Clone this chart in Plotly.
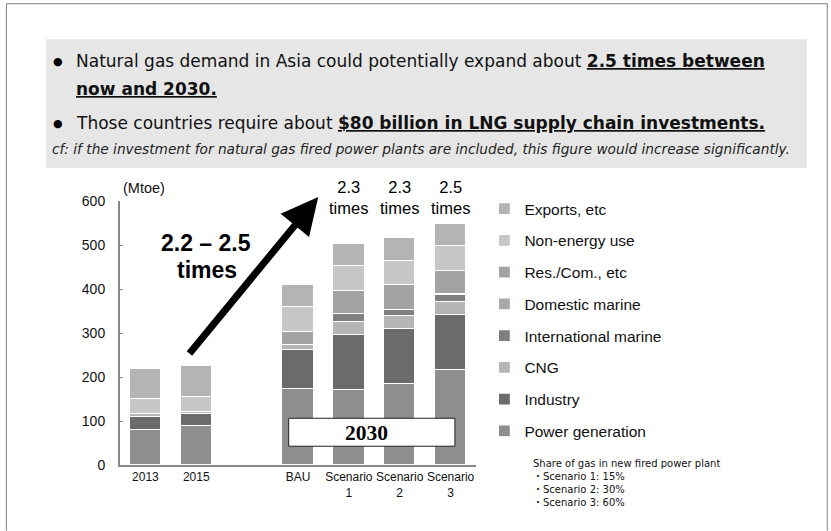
import plotly.graph_objects as go

# ---------------- data ----------------
x_labels = ["2013", "2015", "BAU", "Scenario<br>1", "Scenario<br>2", "Scenario<br>3"]
x_pos = [0, 1, 3, 4, 5, 6]
power_generation = [80, 88, 172, 171, 184, 215]
industry = [29, 28, 90, 125, 125, 125]
cng = [6, 4, 11, 29, 30, 30]
international_marine = [0, 0, 0, 18, 13, 16]
domestic_marine = [0, 0, 0, 0, 0, 2]
res_com = [0, 0, 29, 53, 57, 53]
non_energy_use = [35, 34, 56, 56, 55, 56]
exports = [68, 70, 51, 51, 51, 50]

series_names = ["Power generation", "Industry", "CNG", "International marine",
                "Domestic marine", "Res./Com., etc", "Non-energy use", "Exports, etc"]
series_values = [power_generation, industry, cng, international_marine,
                 domestic_marine, res_com, non_energy_use, exports]
series_colors = ["#8e8e8e", "#6b6b6b", "#b5b5b7", "#7f7f7f",
                 "#a9a9a9", "#a3a3a3", "#c6c7c6", "#b4b4b4"]

growth_x = [4, 5, 6]
growth_labels = ["2.3", "2.3", "2.5"]

y_ticks = [0, 100, 200, 300, 400, 500, 600]

# ---------------- layout helpers ----------------
W, H = 831, 531
L, R, T, B = 120, 475.6, 201, 465.3


def px(x):
    return (x - L) / (R - L)


def py(y):
    return (B - y) / (B - T)


fig = go.Figure()
n = len(series_names)
for i, (name, vals, col) in enumerate(zip(series_names, series_values, series_colors)):
    fig.add_trace(go.Bar(
        x=x_pos, y=vals, name=name, width=0.62, legendgroup=name, legendrank=n - i,
        marker=dict(color=col, line=dict(color="white", width=1.2)),
    ))

fig.update_layout(
    width=W, height=H,
    margin=dict(l=L, r=W - R, t=T, b=H - B, pad=0),
    barmode="stack",
    plot_bgcolor="white", paper_bgcolor="white",
    font=dict(family="Arial, Liberation Sans, sans-serif", color="#000"),
    showlegend=True,
    legend=dict(
        x=px(484), y=py(192), xanchor="left", yanchor="top",
        traceorder="grouped", tracegroupgap=8.6, maxheight=400,
        font=dict(size=15.5, family="Arial, Liberation Sans, sans-serif", color="#111"),
        bgcolor="rgba(0,0,0,0)",
    ),
    bargap=0,
)
fig.update_xaxes(
    range=[-0.5, 6.5], tickmode="array", tickvals=x_pos, ticktext=x_labels,
    showline=True, linecolor="#888", linewidth=2, ticks="", showgrid=False,
    tickangle=0, automargin=False,
    tickfont=dict(size=12, family="Arial, Liberation Sans, sans-serif", color="#111"),
    zeroline=False, fixedrange=True,
)
fig.update_yaxes(
    range=[0, 600], tickvals=y_ticks, showline=True, linecolor="#888", linewidth=2,
    ticks="inside", ticklen=3, tickcolor="#888", showgrid=False, zeroline=False,
    automargin=False,
    tickfont=dict(size=14, family="Arial, Liberation Sans, sans-serif", color="#111"),
    ticklabelstandoff=10,
)

shapes = []
ann = []

# outer frame
shapes.append(dict(type="path", xref="paper", yref="paper",
                   path=f"M {px(6.5)} {py(531)} L {px(6.5)} {py(3.5)} L {px(826.5)} {py(3.5)} L {px(826.5)} {py(531)}",
                   line=dict(color="#808080", width=1)))
# grey text box
shapes.append(dict(type="rect", xref="paper", yref="paper", layer="below",
                   x0=px(46), x1=px(806), y0=py(168), y1=py(39),
                   fillcolor="#e6e6e6", line=dict(width=0)))
# 2030 box
shapes.append(dict(type="rect", xref="paper", yref="paper",
                   x0=px(288.5), x1=px(454.5), y0=py(446.5), y1=py(418.5),
                   fillcolor="white", line=dict(color="#222", width=1)))

txt_font = "DejaVu Sans, sans-serif"
# bullets
for yy in (61, 123):
    ann.append(dict(text="●", x=px(58), y=py(yy), xref="paper", yref="paper",
                    xanchor="center", yanchor="middle", showarrow=False,
                    font=dict(size=11, family="DejaVu Sans", color="#000")))
ann.append(dict(text="Natural gas demand in Asia could potentially expand about <b><u>2.5 times between</u></b>",
                x=px(74), y=py(61), xref="paper", yref="paper", xanchor="left", yanchor="middle",
                showarrow=False, font=dict(size=17, family=txt_font, color="#111")))
ann.append(dict(text="<b><u>now and 2030.</u></b>",
                x=px(74), y=py(89), xref="paper", yref="paper", xanchor="left", yanchor="middle",
                showarrow=False, font=dict(size=17, family=txt_font, color="#111")))
ann.append(dict(text="Those countries require about <b><u>$80 billion in LNG supply chain investments.</u></b>",
                x=px(74), y=py(123), xref="paper", yref="paper", xanchor="left", yanchor="middle",
                showarrow=False, font=dict(size=17, family=txt_font, color="#111")))
ann.append(dict(text="<i>cf: if the investment for natural gas fired power plants are included, this figure would increase significantly.</i>",
                x=px(50), y=py(149), xref="paper", yref="paper", xanchor="left", yanchor="middle",
                showarrow=False, font=dict(size=13.7, family=txt_font, color="#222")))

# axis unit
ann.append(dict(text="(Mtoe)", x=px(121), y=py(188), xref="paper", yref="paper",
                xanchor="left", yanchor="middle", showarrow=False,
                font=dict(size=14.5, color="#111")))

# growth labels
for gx, gl in zip(growth_x, growth_labels):
    ann.append(dict(text=f"{gl}<br>times", x=gx, y=py(197), xref="x", yref="paper",
                    xanchor="center", yanchor="middle", showarrow=False,
                    font=dict(size=16.5, color="#000")))

# big label
ann.append(dict(text="<b>2.2 – 2.5</b>", x=px(206), y=py(243), xref="paper", yref="paper",
                xanchor="center", yanchor="middle", showarrow=False, font=dict(size=23, color="#000")))
ann.append(dict(text="<b>times</b>", x=px(207), y=py(270), xref="paper", yref="paper",
                xanchor="center", yanchor="middle", showarrow=False, font=dict(size=23, color="#000")))

# arrow
ann.append(dict(text="", x=px(318), y=py(197), xref="paper", yref="paper",
                ax=188 - 318, ay=355 - 197, axref="pixel", ayref="pixel",
                showarrow=True, arrowhead=2, arrowsize=1.05, arrowwidth=7, arrowcolor="#000",
                standoff=0))

# 2030
ann.append(dict(text="<b>2030</b>", x=px(366), y=py(433), xref="paper", yref="paper",
                xanchor="center", yanchor="middle", showarrow=False,
                font=dict(size=21.5, family="Liberation Serif, Times New Roman, serif", color="#000")))

# scenario note
note_lines = ["Share of gas in new fired power plant", "・Scenario 1: 15%",
              "・Scenario 2: 30%", "・Scenario 3: 60%"]
ann.append(dict(text="<br>".join(note_lines), x=px(531), y=py(456), xref="paper", yref="paper",
                xanchor="left", yanchor="top", align="left", showarrow=False,
                font=dict(size=10, family="DejaVu Sans, Noto Sans CJK JP, sans-serif", color="#111")))

fig.update_layout(shapes=shapes, annotations=ann)
fig.write_html("out.html", post_script="document.body.style.margin='0px';",
               config={"displayModeBar": False})
